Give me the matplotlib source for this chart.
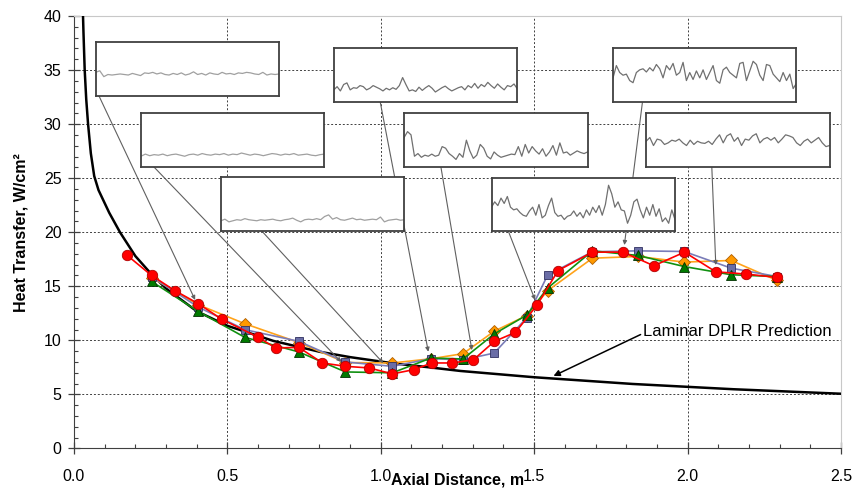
import numpy as np
import matplotlib
matplotlib.use('Agg')
import matplotlib.pyplot as plt
from matplotlib.ticker import MultipleLocator

plt.rcParams['font.family'] = ['Liberation Sans', 'DejaVu Sans']

# measured data (axial distance m, heat transfer W/cm2)
red_x = [0.174, 0.253, 0.329, 0.405, 0.481, 0.601, 0.657, 0.733, 0.810, 0.885, 0.962, 1.038, 1.109,
         1.166, 1.233, 1.302, 1.370, 1.439, 1.509, 1.578, 1.690, 1.790, 1.890, 1.990, 2.092, 2.192, 2.292]
red_y = [17.85, 16.0, 14.6, 13.4, 11.97, 10.28, 9.3, 9.35, 7.91, 7.6, 7.45, 6.9, 7.3,
         7.91, 7.91, 8.2, 9.9, 10.74, 13.25, 16.46, 18.16, 18.16, 16.9, 18.16, 16.34, 16.13, 15.82]

tc_x = [0.253, 0.405, 0.557, 0.733, 0.885, 1.038, 1.164, 1.268, 1.370, 1.476, 1.544, 1.690,
        1.839, 1.989, 2.142, 2.292]
green_y = [15.45, 12.68, 10.28, 8.93, 7.08, 7.0, 8.37, 8.28, 10.6, 12.34, 14.84, 18.28,
           17.85, 16.83, 16.07, 15.9]
blue_y = [15.9, 13.08, 10.99, 9.91, 8.0, 7.6, 8.31, 8.2, 8.83, 12.1, 16.04, 18.2,
          18.28, 18.22, 16.68, 15.9]
orange_y = [15.8, 13.3, 11.54, 9.8, 7.95, 7.91, 8.3, 8.77, 10.85, 12.3, 14.6, 17.6,
            17.76, 17.24, 17.39, 15.54]

# laminar DPLR prediction
lam_x = [0.028, 0.031, 0.035, 0.040, 0.046, 0.055, 0.066, 0.080, 0.095, 0.115, 0.150, 0.200, 0.250,
         0.300, 0.400, 0.500, 0.650, 0.800, 0.900, 1.040, 1.160, 1.260, 1.500, 1.820, 2.150, 2.520]
lam_y = [41.5, 38.5, 35.0, 32.3, 30.0, 27.3, 25.2, 23.9, 23.0, 21.8, 20.0, 17.8, 16.2,
         14.8, 12.7, 11.35, 9.95, 8.95, 8.45, 7.88, 7.5, 7.17, 6.59, 5.97, 5.48, 5.04]

# inset traces (fraction of box height)
t1 = [0.44, 0.47, 0.36, 0.40, 0.39, 0.40, 0.41, 0.40, 0.39, 0.42, 0.40, 0.38, 0.43, 0.42, 0.44, 0.41,
      0.43, 0.40, 0.39, 0.42, 0.40, 0.43, 0.39, 0.41, 0.45, 0.40, 0.42, 0.39, 0.43, 0.41, 0.40, 0.44,
      0.41, 0.42, 0.40, 0.43, 0.42, 0.44, 0.43, 0.41, 0.40, 0.44, 0.39, 0.41, 0.40, 0.41]
t2 = [0.20, 0.24, 0.21, 0.23, 0.22, 0.24, 0.21, 0.23, 0.24, 0.22, 0.20, 0.23, 0.24, 0.22, 0.25, 0.23,
      0.22, 0.24, 0.23, 0.25, 0.22, 0.24, 0.23, 0.26, 0.24, 0.22, 0.24, 0.23, 0.21, 0.23, 0.25, 0.24,
      0.22, 0.24, 0.23, 0.25, 0.22, 0.23, 0.24, 0.22, 0.21, 0.23, 0.24]
t3 = [0.19, 0.22, 0.17, 0.19, 0.21, 0.20, 0.23, 0.21, 0.20, 0.19, 0.21, 0.20, 0.21, 0.22, 0.20, 0.19,
      0.21, 0.22, 0.24, 0.20, 0.17, 0.21, 0.22, 0.21, 0.23, 0.21, 0.27, 0.30, 0.22, 0.25, 0.21, 0.20,
      0.22, 0.24, 0.21, 0.22, 0.20, 0.21, 0.22, 0.21, 0.26, 0.17, 0.20, 0.21, 0.22, 0.20, 0.21]
t4 = [0.22, 0.28, 0.20, 0.32, 0.35, 0.22, 0.26, 0.25, 0.30, 0.28, 0.22, 0.25, 0.30, 0.27, 0.24, 0.20,
      0.25, 0.22, 0.26, 0.23, 0.30, 0.45, 0.32, 0.20, 0.22, 0.19, 0.27, 0.21, 0.26, 0.30, 0.25, 0.18,
      0.22, 0.26, 0.29, 0.24, 0.20, 0.23, 0.26, 0.28, 0.22, 0.30, 0.26, 0.34, 0.25, 0.32, 0.28, 0.36,
      0.30, 0.25, 0.33, 0.27, 0.22, 0.30, 0.28, 0.33, 0.24]
t5 = [0.55, 0.66, 0.60, 0.20, 0.25, 0.18, 0.22, 0.20, 0.24, 0.20, 0.22, 0.38, 0.35, 0.25, 0.20, 0.14,
      0.25, 0.18, 0.50, 0.30, 0.16, 0.22, 0.42, 0.35, 0.20, 0.15, 0.28, 0.22, 0.18, 0.20, 0.22, 0.24,
      0.23, 0.38, 0.20, 0.42, 0.26, 0.38, 0.30, 0.24, 0.34, 0.20, 0.28, 0.40, 0.22, 0.45, 0.26, 0.28,
      0.22, 0.26, 0.30, 0.27, 0.25, 0.28]
t6 = [0.45, 0.55, 0.48, 0.62, 0.52, 0.65, 0.45, 0.40, 0.42, 0.35, 0.30, 0.28, 0.38, 0.45, 0.30, 0.50,
      0.25, 0.30, 0.48, 0.62, 0.35, 0.28, 0.30, 0.22, 0.28, 0.30, 0.38, 0.28, 0.35, 0.25, 0.40, 0.30,
      0.45, 0.35, 0.48, 0.30, 0.50, 0.86, 0.70, 0.45, 0.55, 0.40, 0.38, 0.15, 0.30, 0.55, 0.60, 0.40,
      0.25, 0.45, 0.30, 0.50, 0.28, 0.42, 0.18, 0.25, 0.15, 0.40, 0.22]
t7 = [0.45, 0.68, 0.55, 0.50, 0.52, 0.40, 0.36, 0.55, 0.60, 0.62, 0.56, 0.64, 0.58, 0.70, 0.62, 0.45,
      0.68, 0.60, 0.72, 0.50, 0.55, 0.74, 0.40, 0.55, 0.42, 0.58, 0.45, 0.60, 0.42, 0.55, 0.68, 0.40,
      0.35, 0.60, 0.65, 0.55, 0.50, 0.45, 0.72, 0.74, 0.40, 0.58, 0.76, 0.70, 0.50, 0.40, 0.70, 0.68,
      0.52, 0.45, 0.38, 0.55, 0.40, 0.52, 0.25, 0.35]
t8 = [0.48, 0.55, 0.40, 0.52, 0.50, 0.42, 0.45, 0.50, 0.48, 0.52, 0.45, 0.40, 0.50, 0.42, 0.48, 0.45,
      0.44, 0.48, 0.42, 0.52, 0.60, 0.45, 0.58, 0.62, 0.48, 0.55, 0.40, 0.52, 0.50, 0.58, 0.62, 0.45,
      0.52, 0.55, 0.50, 0.55, 0.45, 0.52, 0.60, 0.58, 0.55, 0.45, 0.40, 0.48, 0.52, 0.45, 0.50, 0.55,
      0.45, 0.38, 0.40]
traces = [t1, t2, t3, t4, t5, t6, t7, t8]

# inset box lower-left corners, leader start and arrow tip (data coords)
box_ll = [(0.0708, 32.61), (0.2185, 26.04), (0.479, 20.12), (0.847, 32.08),
          (1.076, 26.04), (1.361, 20.09), (1.757, 32.05), (1.865, 26.04)]
lead_from = [(0.0815, 32.61), (0.2586, 26.1), (0.612, 20.12), (0.998, 32.08),
             (1.196, 26.04), (1.416, 20.09), (1.853, 32.05), (2.079, 26.04)]
lead_to = [(0.395, 13.74), (0.871, 8.0), (1.008, 7.9), (1.155, 8.95),
           (1.297, 9.1), (1.503, 13.74), (1.794, 18.82), (2.092, 16.97)]
box_w, box_h = 0.598, 4.95

fig = plt.figure(figsize=(8.62, 4.97), dpi=100)
ax = fig.add_axes([0.0858, 0.0976, 0.8898, 0.8702])

ax.plot(lam_x, lam_y, color='black', lw=1.8, zorder=3)
ax.plot(tc_x, orange_y, color='#FFA31A', lw=1.2, marker='D', ms=6, mfc='#FF9900', mec='#B06000', mew=0.6, zorder=4)
ax.plot(tc_x, blue_y, color='#7A7CB8', lw=1.2, marker='s', ms=6, mfc='#6A6DA6', mec='#303060', mew=0.6, zorder=5)
ax.plot(tc_x, green_y, color='#109010', lw=1.2, marker='^', ms=7.5, mfc='#007A00', mec='#003000', mew=0.6, zorder=6)
ax.plot(red_x, red_y, color='#FF0000', lw=1.2, marker='o', ms=7.5, mfc='#FF0000', mec='#B00000', mew=0.6, zorder=7)

ax.set_xlim(0, 2.5)
ax.set_ylim(0, 40)
ax.xaxis.set_major_locator(MultipleLocator(0.5))
ax.xaxis.set_minor_locator(MultipleLocator(0.1))
ax.yaxis.set_major_locator(MultipleLocator(5))
ax.yaxis.set_minor_locator(MultipleLocator(1))
ax.xaxis.set_major_formatter(matplotlib.ticker.FormatStrFormatter('%.1f'))
ax.tick_params(which='major', direction='inout', length=8, width=0.9, color='#404040', labelsize=11.5)
ax.tick_params(axis='x', which='major', pad=11)
ax.tick_params(axis='y', which='major', pad=5)
ax.tick_params(which='minor', direction='in', length=3, width=0.8, color='#404040')
ax.grid(True, which='major', ls=(0, (2, 2)), color='#404040', lw=0.7)
for s in ['left', 'bottom']:
    ax.spines[s].set_color('#404040')
for s in ['top', 'right']:
    ax.spines[s].set_color('#C8C8C8')

ax.set_xlabel('Axial Distance, m', fontsize=11.5, fontweight='bold', va='center')
ax.xaxis.set_label_coords(0.5, -0.072)
ax.set_ylabel('Heat Transfer, W/cm²', fontsize=11.5, fontweight='bold', va='center')
ax.yaxis.set_label_coords(-0.069, 0.5)

# leader lines
for p0, p1 in zip(lead_from, lead_to):
    ax.annotate('', xy=p1, xytext=p0, zorder=8,
                arrowprops=dict(arrowstyle='-|>', color='#606060', lw=0.8, mutation_scale=6,
                                shrinkA=0, shrinkB=0))

# inset boxes
for i, (ll, tr) in enumerate(zip(box_ll, traces)):
    ia = ax.inset_axes([ll[0], ll[1], box_w, box_h], transform=ax.transData, zorder=10)
    ia.plot(np.linspace(0, 1, len(tr)), tr, color='#A0A0A0' if i < 3 else '#707070', lw=0.9)
    ia.set_xlim(0, 1)
    ia.set_ylim(0, 1)
    ia.set_xticks([])
    ia.set_yticks([])
    for s in ia.spines.values():
        s.set_color('#404040')
        s.set_linewidth(1.3)

ax.annotate('Laminar DPLR Prediction', xy=(1.563, 6.71), xytext=(1.856, 10.8),
            fontsize=12, ha='left', va='center', zorder=9,
            arrowprops=dict(arrowstyle='-|>', color='black', lw=1.1, mutation_scale=9,
                            shrinkA=0, shrinkB=0, relpos=(0, 0.4)))

fig.savefig('out.png', dpi=100)
